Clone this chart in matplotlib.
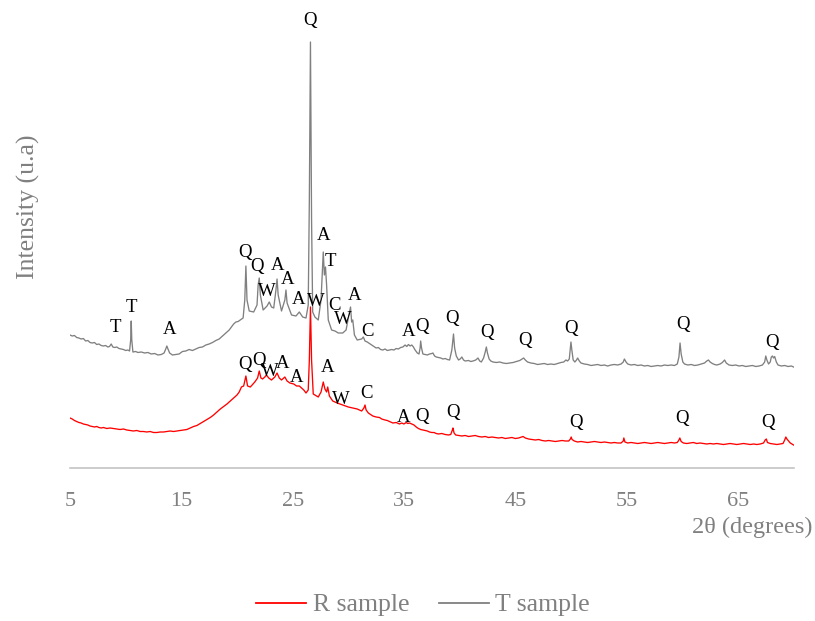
import matplotlib
matplotlib.use("Agg")
import matplotlib.pyplot as plt
from matplotlib.lines import Line2D

plt.rcParams["font.family"] = ["Liberation Serif", "DejaVu Serif"]

# ----- T sample (grey) : 2theta / intensity (u.a) -----
t_x = [5.0, 5.2, 5.4, 5.6, 5.8, 6.0, 6.2, 6.4, 6.6, 6.8, 7.0, 7.2, 7.4, 7.6, 7.8, 8.0,
       8.2, 8.4, 8.55, 8.7, 8.85, 9.0, 9.2, 9.4, 9.6, 9.8, 10.0, 10.2, 10.35, 10.45, 10.5,
       10.55, 10.65, 10.9, 11.1, 11.4, 11.7, 12.0, 12.3, 12.6, 12.9, 13.2, 13.45, 13.6, 13.7,
       13.8, 13.95, 14.2, 14.5, 14.8, 15.1, 15.4, 15.7, 16.0, 16.3, 16.6, 16.9, 17.2, 17.5,
       17.8, 18.1, 18.4, 18.7, 19.0, 19.3, 19.5, 19.7, 19.9, 20.1, 20.3, 20.55, 20.7, 20.8,
       20.9, 21.1, 21.5, 21.8, 21.9, 22.0, 22.1, 22.35, 22.7, 22.9, 23.1, 23.3, 23.5, 23.6,
       23.7, 24.0, 24.3, 24.4, 24.5, 24.9, 25.3, 25.6, 25.9, 26.2, 26.4, 26.5, 26.6, 26.7,
       26.8, 27.0, 27.3, 27.55, 27.75, 27.85, 27.95, 28.05, 28.2, 28.5, 28.8, 29.1, 29.5,
       29.8, 30.05, 30.2, 30.3, 30.4, 30.55, 30.8, 31.0, 31.2, 31.35, 31.5, 31.7, 31.9, 32.1,
       32.3, 32.5, 32.7, 32.9, 33.1, 33.3, 33.5, 33.7, 33.9, 34.1, 34.3, 34.5, 34.7, 34.9,
       35.1, 35.25, 35.4, 35.55, 35.7, 35.85, 36.0, 36.2, 36.35, 36.45, 36.5, 36.58, 36.7,
       36.9, 37.1, 37.3, 37.5, 37.6, 37.75, 37.9, 38.1, 38.3, 38.5, 38.7, 38.9, 39.1, 39.3,
       39.45, 39.55, 39.7, 39.9, 40.05, 40.2, 40.35, 40.5, 40.8, 41.0, 41.2, 41.45, 41.65,
       41.8, 41.95, 42.15, 42.3, 42.4, 42.5, 42.65, 42.8, 43.0, 43.3, 43.6, 43.9, 44.2, 44.5,
       44.8, 45.1, 45.4, 45.6, 45.75, 45.9, 46.1, 46.4, 46.7, 47.0, 47.3, 47.6, 47.9, 48.2,
       48.5, 48.8, 49.1, 49.35, 49.55, 49.7, 49.85, 49.95, 50.0, 50.08, 50.2, 50.35, 50.5,
       50.6, 50.75, 50.9, 51.2, 51.5, 51.8, 52.1, 52.4, 52.7, 53.0, 53.3, 53.6, 53.9, 54.2,
       54.5, 54.7, 54.8, 54.95, 55.1, 55.4, 55.7, 56.0, 56.3, 56.6, 56.9, 57.2, 57.5, 57.8,
       58.1, 58.4, 58.7, 59.0, 59.3, 59.55, 59.7, 59.8, 59.9, 60.05, 60.2, 60.5, 60.8, 61.1,
       61.4, 61.7, 62.0, 62.2, 62.35, 62.5, 62.7, 62.9, 63.1, 63.4, 63.6, 63.8, 63.95, 64.2,
       64.5, 64.8, 65.1, 65.4, 65.7, 66.0, 66.3, 66.6, 66.9, 67.2, 67.4, 67.5, 67.6, 67.75,
       67.9, 68.0, 68.1, 68.2, 68.3, 68.45, 68.6, 68.9, 69.2, 69.5, 69.8, 70.0]
t_y = [133, 132, 132.5, 130.5, 130, 129, 129.5, 127, 127.5, 125.5, 125, 125.5, 123.5, 124, 122.5, 122,
       122.5, 121, 121.5, 124, 121, 120.5, 121, 119.5, 119, 118.5, 117.5, 118, 117, 128, 147,
       128, 116, 116.5, 115.5, 116, 115, 115.5, 114, 114.5, 113, 113.5, 115, 119, 122,
       119, 115, 113, 113.5, 114, 116.5, 117, 118.5, 117.5, 119, 120.5, 121, 123, 124,
       125.5, 127.5, 129, 132, 135, 138, 141, 144, 146, 146.5, 148, 150, 168, 202,
       168, 157, 156, 163, 183, 190, 173, 158, 162, 166, 161, 160, 178, 189,
       173, 157, 168, 178, 165, 153, 152, 156, 151, 150, 163, 268, 426, 248,
       156, 151, 148, 168, 216, 193, 201, 183, 148, 138, 137, 135, 135,
       138, 153, 161, 146, 148, 133, 128, 128.5, 129, 131, 127, 126, 124.5, 123,
       121.5, 120, 120.5, 118.5, 118, 119, 117.5, 118, 118.5, 118, 119.5, 119, 120.5, 121,
       123, 121.5, 123.5, 122, 123, 121, 118, 115, 114, 120, 127, 120, 114,
       113.5, 113, 114, 114.5, 115, 112, 111, 110.5, 110, 109, 109.5, 108.5, 108, 118,
       134, 120, 112, 108, 109, 111, 108, 107, 107.5, 106.5, 107, 108, 110,
       107, 106, 110, 116, 121, 115, 109, 107, 106, 105.5, 106, 105, 104.5, 105,
       105.5, 106.5, 107.5, 109, 110, 108, 106, 105, 104.5, 103.5, 104, 104.5, 103.5, 104,
       103.5, 104.5, 105.5, 106, 108, 107, 109, 120, 126, 118, 108, 106, 108,
       110, 107, 105, 104, 103.5, 102.5, 103, 103.5, 102.5, 103, 102, 103, 103.5, 103,
       104, 106, 109, 106, 104, 103, 103.5, 102.5, 103, 102, 102.5, 101.5, 102, 102.5,
       102, 103, 102.5, 103, 102.5, 104, 111, 125, 114, 106, 104, 103, 103.5, 102.5,
       103, 104, 105, 107, 108, 106, 104.5, 103.5, 103, 104, 105.5, 108, 105, 103,
       102.5, 103, 102, 102.5, 101.5, 102, 102.5, 101.5, 102, 103, 106, 112, 108, 104,
       106, 111, 112, 110, 111.5, 106, 103, 102, 102.5, 101.5, 102, 101]

# ----- R sample (red) -----
r_x = [5.0, 5.2, 5.4, 5.6, 5.8, 6.0, 6.2, 6.4, 6.6, 6.8, 7.0, 7.2, 7.4, 7.6, 7.8, 8.0,
       8.3, 8.6, 8.9, 9.2, 9.5, 9.8, 10.1, 10.4, 10.7, 11.0, 11.3, 11.6, 11.9, 12.2, 12.5,
       12.8, 13.1, 13.4, 13.7, 14.0, 14.3, 14.6, 14.9, 15.2, 15.5, 15.8, 16.1, 16.4, 16.7,
       17.0, 17.3, 17.6, 17.9, 18.2, 18.5, 18.8, 19.1, 19.4, 19.7, 20.0, 20.2, 20.4, 20.6,
       20.8, 20.95, 21.2, 21.6, 21.85, 22.0, 22.15, 22.3, 22.5, 22.65, 22.85, 23.1, 23.4,
       23.6, 23.8, 24.0, 24.3, 24.5, 24.75, 25.1, 25.35, 25.6, 25.8, 26.0, 26.2, 26.4, 26.5,
       26.6, 26.7, 26.85, 27.0, 27.3, 27.55, 27.75, 27.9, 28.05, 28.15, 28.3, 28.6, 29.0,
       29.5, 30.0, 30.4, 30.8, 31.2, 31.4, 31.5, 31.6, 31.8, 32.2, 32.5, 32.8, 33.0, 33.3,
       33.5, 33.8, 34.0, 34.3, 34.6, 34.8, 35.0, 35.2, 35.35, 35.5, 35.7, 35.9, 36.1, 36.3,
       36.5, 36.7, 36.9, 37.1, 37.3, 37.5, 37.7, 37.9, 38.1, 38.4, 38.7, 39.0, 39.2, 39.35,
       39.4, 39.5, 39.65, 39.9, 40.2, 40.5, 40.8, 41.1, 41.4, 41.7, 42.0, 42.3, 42.6, 42.9,
       43.2, 43.5, 43.8, 44.1, 44.4, 44.7, 45.0, 45.3, 45.55, 45.7, 45.9, 46.2, 46.5, 46.8,
       47.1, 47.4, 47.7, 48.0, 48.3, 48.6, 48.9, 49.2, 49.5, 49.8, 49.95, 50.02, 50.1, 50.3,
       50.6, 50.9, 51.2, 51.5, 51.8, 52.1, 52.4, 52.7, 53.0, 53.3, 53.6, 53.9, 54.2, 54.5,
       54.7, 54.75, 54.85, 55.1, 55.4, 55.7, 56.0, 56.3, 56.6, 56.9, 57.2, 57.5, 57.8, 58.1,
       58.4, 58.7, 59.0, 59.3, 59.55, 59.7, 59.78, 59.9, 60.1, 60.4, 60.7, 61.0, 61.3, 61.6,
       61.9, 62.2, 62.5, 62.8, 63.1, 63.4, 63.7, 64.0, 64.3, 64.6, 64.9, 65.2, 65.5, 65.8,
       66.1, 66.4, 66.7, 67.0, 67.3, 67.45, 67.55, 67.65, 67.9, 68.2, 68.5, 68.8, 69.05,
       69.2, 69.3, 69.4, 69.55, 69.7, 69.85, 70.0]
r_y = [50, 49, 47.5, 46.5, 45.5, 45, 44, 43.5, 43, 42, 41.5, 41, 41.5, 40.5, 40, 40.5,
       39.5, 40, 39.5, 39, 38.5, 39, 38, 37.5, 37, 37.5, 36.5, 36.5, 36, 36.5, 35.5,
       35.5, 36, 36, 36.5, 37, 36.5, 37, 37.5, 38, 38.5, 40, 41.5, 42.5, 44.5,
       46.5, 48.5, 50.5, 53, 56, 59, 61.5, 64, 67, 70, 73, 76, 81, 82,
       92, 82, 81, 86, 90, 97, 90, 89, 91, 93, 90, 88, 91,
       95, 90, 88, 91, 87, 85, 84, 82, 82, 80, 78, 75, 78, 108,
       161, 108, 74, 73, 71, 76, 86, 79, 76, 81, 72, 67, 65,
       63, 61, 60, 59, 57, 60, 63, 58, 55, 52, 51, 50.5, 49, 48,
       47.5, 46, 45, 45.5, 44, 45, 44, 45.5, 44.5, 45, 44, 43, 41, 39.5,
       38.5, 38, 37.5, 37, 36, 35.5, 35.5, 34.5, 34, 34.5, 33.5, 33, 33.5, 38,
       40, 35, 33, 32.5, 32, 32.5, 31.5, 32, 32.5, 31.5, 31, 31.5, 30.5, 31,
       30.5, 30, 30.5, 29.5, 30, 30.5, 29.5, 30, 31, 31.5, 30, 29, 28.5, 28,
       28.5, 27.5, 27, 27.5, 27, 26.5, 27, 27.5, 27, 27, 29, 31, 28.5, 27,
       26, 26.5, 26, 25.5, 26, 26.5, 26, 25.5, 26, 25.5, 25, 25.5, 25, 25,
       27, 30, 26, 25, 25.5, 25, 24.5, 25, 25.5, 25, 24.5, 25, 25.5, 25,
       24.5, 25, 25.5, 25, 25.5, 28, 30, 26.5, 25, 24.5, 25, 25.5, 24.5, 25,
       24.5, 24, 24.5, 24, 24.5, 24, 23.5, 24, 24.5, 24, 23.5, 24, 24.5, 24,
       23.5, 24, 23.5, 24, 25, 28, 29, 25.5, 24.5, 24, 23.5, 24, 24.5,
       28, 31, 29, 27, 25, 24, 23]

# ----- phase labels (letter, 2theta, intensity) -----
t_labels = [("T", 9.04, 141), ("T", 10.54, 161), ("A", 13.98, 138), ("Q", 20.72, 216),
            ("Q", 21.83, 201), ("W", 22.67, 177), ("A", 23.62, 202), ("A", 24.56, 188),
            ("A", 25.57, 169), ("Q", 26.56, 448), ("W", 27.1, 166), ("A", 27.82, 232),
            ("T", 28.42, 206), ("C", 28.75, 162), ("A", 30.52, 172), ("W", 29.47, 148),
            ("C", 31.71, 136), ("A", 35.37, 136), ("Q", 36.65, 142), ("Q", 39.29, 149),
            ("Q", 42.44, 135), ("Q", 45.88, 128), ("Q", 50.01, 139), ("Q", 60.1, 144),
            ("Q", 68.04, 126)]
r_labels = [("Q", 20.72, 103), ("Q", 22.01, 107), ("W", 22.91, 97), ("A", 24.07, 105),
            ("A", 25.37, 90), ("A", 28.12, 101), ("W", 29.32, 69), ("C", 31.66, 74),
            ("A", 34.95, 51), ("Q", 36.6, 52), ("Q", 39.44, 55), ("Q", 50.43, 45),
            ("Q", 59.99, 50), ("Q", 67.74, 45)]

xticks = [5, 15, 25, 35, 45, 55, 65]

TXT = "#808080"

fig = plt.figure(figsize=(8.15, 6.21), dpi=100)
ax = fig.add_axes([70 / 815, 153 / 621, 723.6 / 815, 440 / 621])

ax.plot(r_x, r_y, color="#FF0000", lw=0.95)
ax.plot(t_x, t_y, color="#808080", lw=0.95)

for s, x, y in t_labels + r_labels:
    ax.text(x, y, s, ha="center", va="center", fontsize=13.5, color="black")

ax.set_xlim(5, 70)
ax.set_ylim(0, 440)
ax.set_xticks(xticks)
ax.set_xticklabels([str(t) for t in xticks])
ax.set_yticks([])
ax.tick_params(axis="x", length=0, pad=17, labelsize=16, labelcolor=TXT)
for side in ["top", "left", "right"]:
    ax.spines[side].set_visible(False)
ax.spines["bottom"].set_color("#BFBFBF")
ax.spines["bottom"].set_linewidth(1.1)

fig.text(28 / 815, 1 - 207 / 621, "Intensity (u.a)", rotation=90, ha="center", va="center",
         fontsize=18.5, color=TXT)
fig.text(812 / 815, 1 - 527 / 621, "2θ (degrees)", ha="right", va="center",
         fontsize=17.5, color=TXT)

handles = [Line2D([], [], color="#FF0000", lw=1.3), Line2D([], [], color="#808080", lw=1.3)]
fig.legend(handles, ["R sample", "T sample"], loc="center", bbox_to_anchor=(423 / 815, 1 - 605 / 621),
           ncol=2, frameon=False, fontsize=18.5, labelcolor=TXT, handlelength=1.95,
           handletextpad=0.25, columnspacing=1.15)

fig.savefig("out.png", dpi=100)
